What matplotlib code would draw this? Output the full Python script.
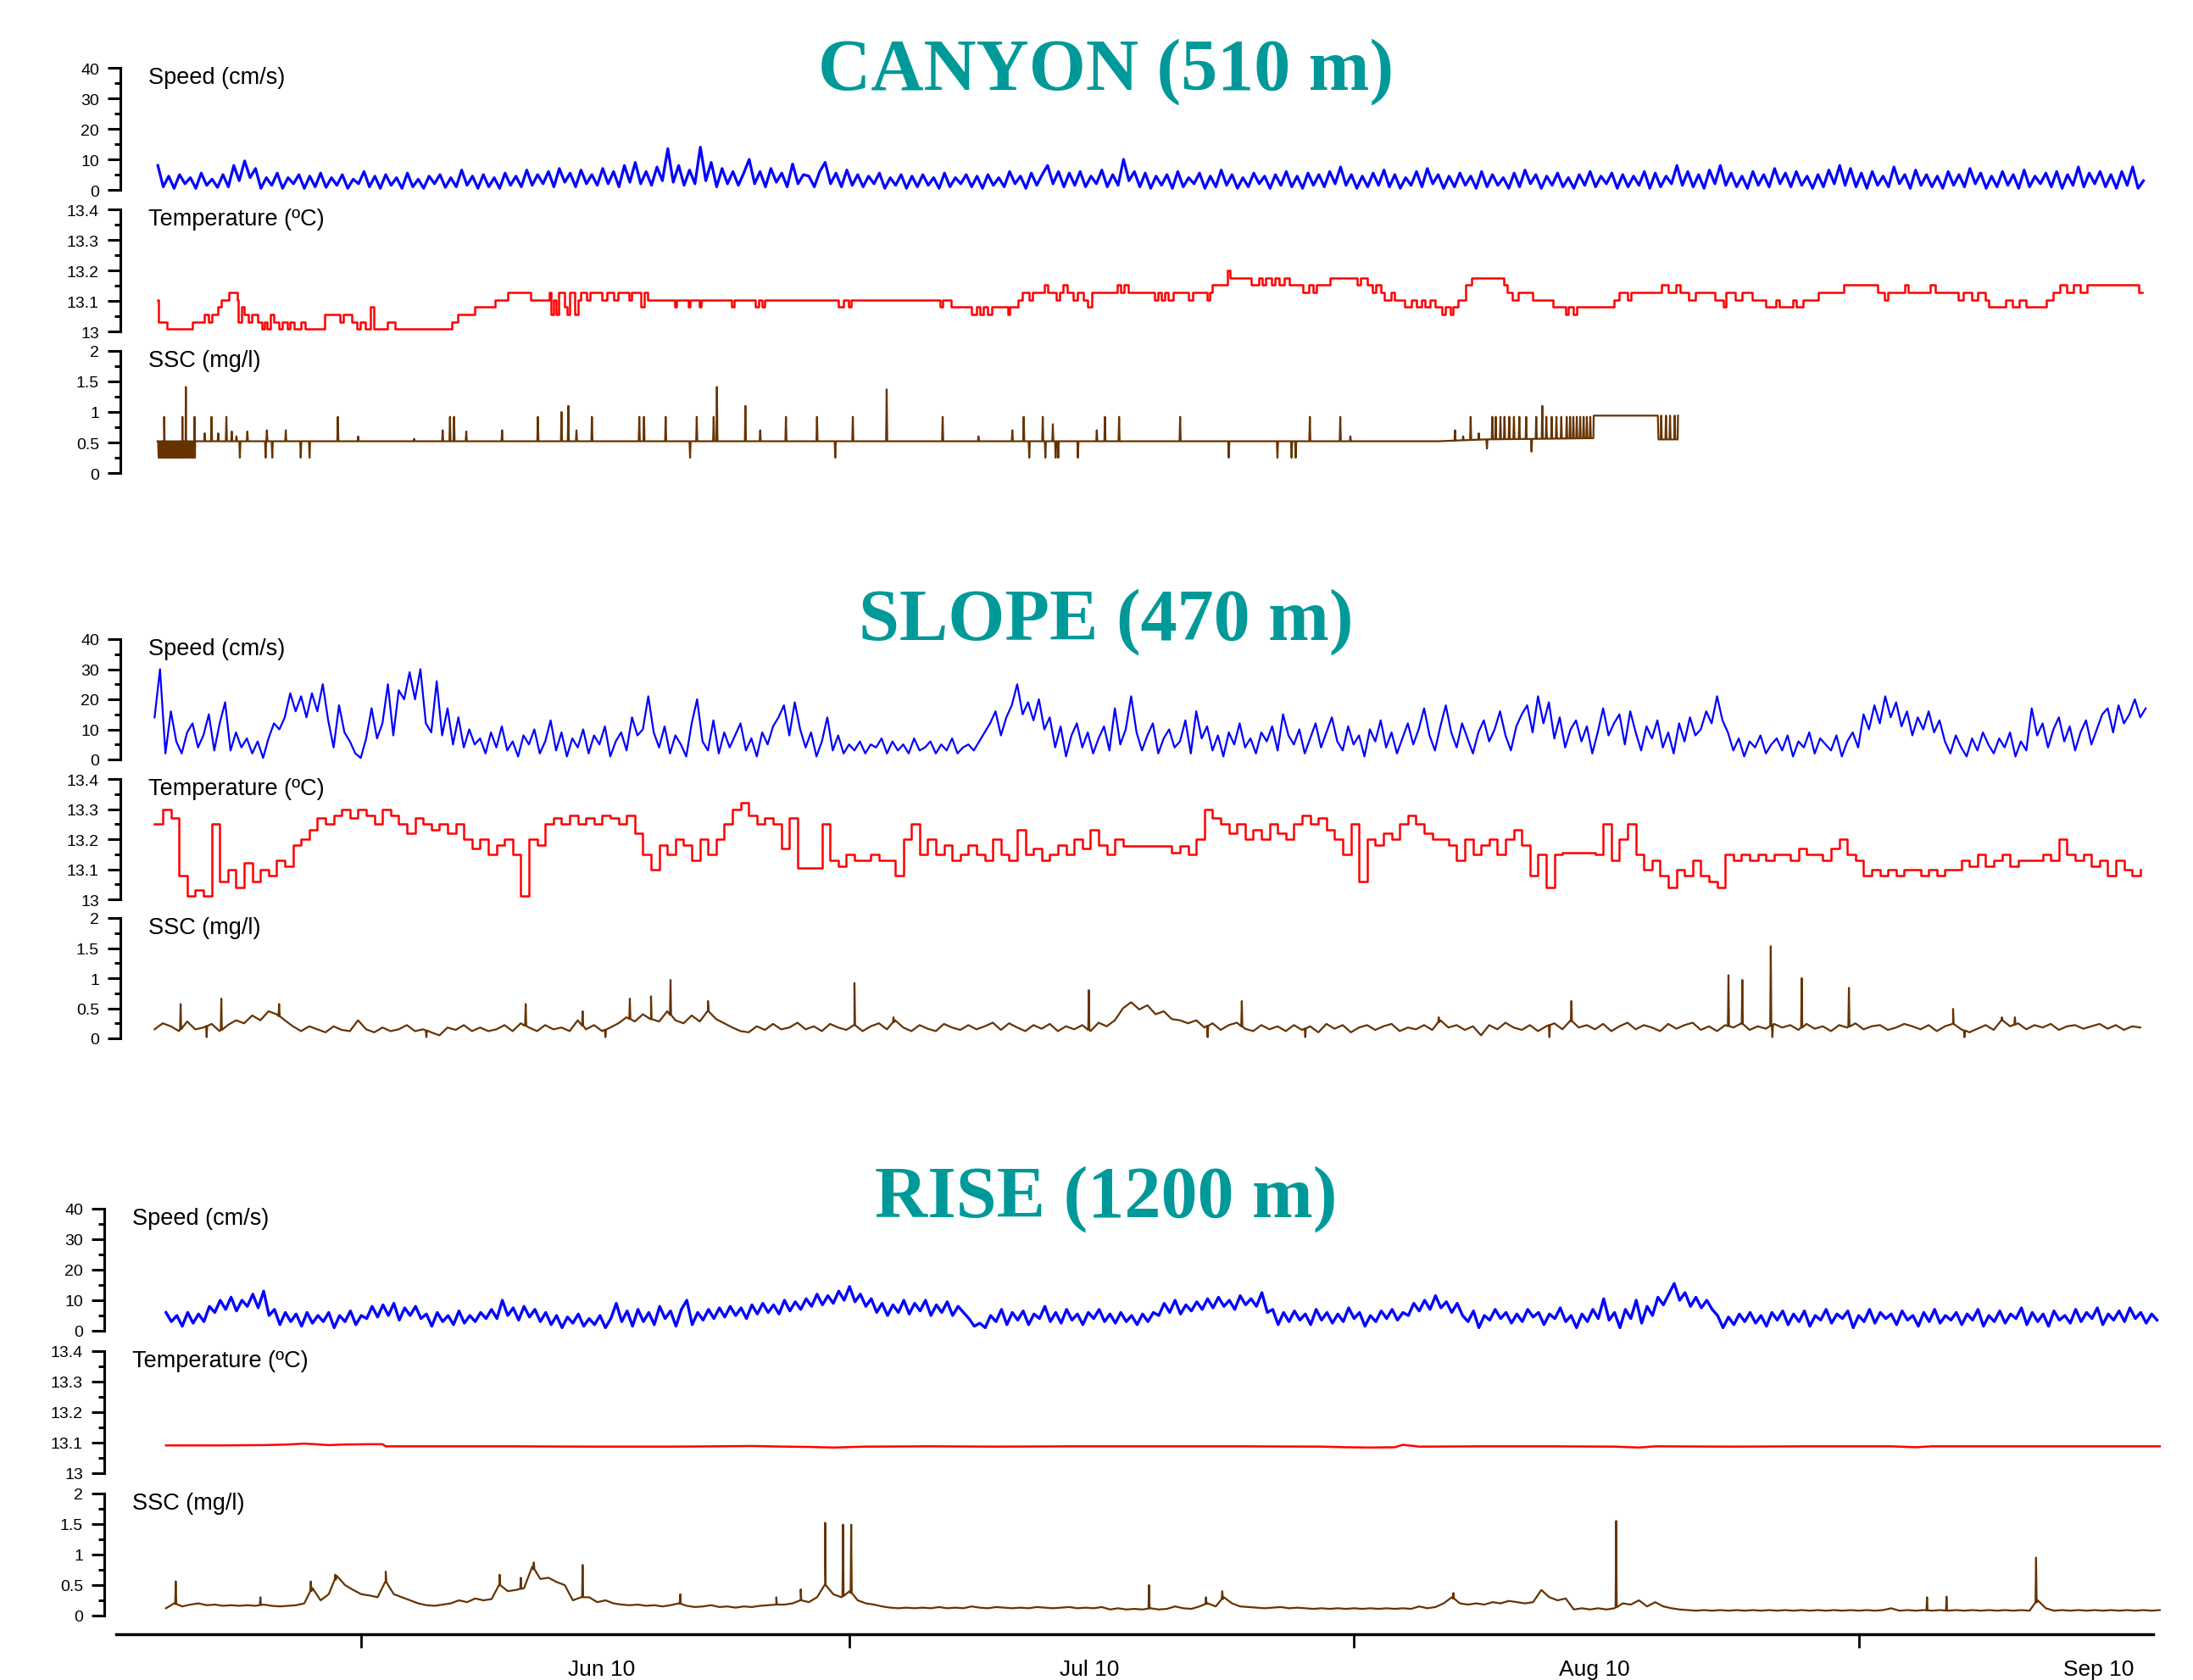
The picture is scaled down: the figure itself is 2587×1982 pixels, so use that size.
import numpy as np
import matplotlib
matplotlib.use("Agg")
import matplotlib.pyplot as plt
from matplotlib.ticker import MultipleLocator

plt.rcParams['font.family'] = ['Liberation Sans', 'DejaVu Sans']

# time axis in days counted from 1 May 2010
month_starts = [31, 61, 92, 123]
month_mids = [45.75, 75.75, 106.75, 137.75]
month_labels = ['Jun 10', 'Jul 10', 'Aug 10', 'Sep 10']

stations = ['CANYON (510 m)', 'SLOPE (470 m)', 'RISE (1200 m)']
var_labels = ['Speed (cm/s)', 'Temperature (ºC)', 'SSC (mg/l)']

speed_ticks = [0, 10, 20, 30, 40]
speed_ticklabels = ['0', '10', '20', '30', '40']
temp_ticks = [13.0, 13.1, 13.2, 13.3, 13.4]
temp_ticklabels = ['13', '13.1', '13.2', '13.3', '13.4']
ssc_ticks = [0, 0.5, 1.0, 1.5, 2.0]
ssc_ticklabels = ['0', '0.5', '1', '1.5', '2']

# ---------------- CANYON ----------------
canyon_speed_start = 18.5   # 3 samples per day
canyon_speed = [
    8.0, 1.0, 4.5, 0.5, 5.0, 2.0, 4.0, 0.5, 5.5, 1.5, 3.5, 0.8, 5.0, 1.0, 8.0, 3.0, 9.5, 4.0, 7.0, 0.5, 4.0, 1.5, 5.5, 0.5, 4.0, 2.0, 5.0, 0.5, 4.5, 1.0,
    5.5, 0.8, 4.0, 1.5, 5.0, 0.5, 3.5, 2.0, 6.0, 1.0, 4.5, 0.5, 5.0, 1.5, 4.0, 0.5, 5.5, 1.0, 3.5, 0.5, 4.5, 2.0, 5.0, 0.8, 4.0, 1.0, 6.5, 1.5, 4.5, 0.5,
    5.0, 1.0, 4.0, 0.5, 5.5, 1.5, 4.5, 1.0, 6.5, 1.5, 5.0, 2.0, 6.0, 1.0, 7.0, 2.5, 5.5, 1.0, 6.5, 2.0, 5.0, 1.5, 7.0, 2.0, 6.0, 1.0, 8.0, 2.5, 9.0, 2.0,
    6.0, 1.5, 7.5, 3.0, 13.5, 2.5, 8.0, 1.5, 6.5, 2.0, 14.0, 3.0, 9.0, 1.0, 7.0, 2.0, 6.0, 1.5, 5.5, 10.0, 2.0, 6.0, 1.0, 7.0, 2.5, 5.5, 1.0, 8.5, 2.0, 5.0,
    4.5, 1.0, 6.0, 9.0, 2.0, 5.5, 1.0, 6.5, 1.5, 5.0, 1.0, 4.5, 2.0, 5.5, 0.5, 4.0, 1.5, 5.0, 0.5, 4.5, 1.0, 5.0, 1.5, 4.0, 0.5, 5.5, 1.0, 4.0, 2.0, 5.0,
    1.0, 4.5, 0.5, 5.0, 1.5, 4.0, 1.0, 6.0, 2.0, 4.5, 0.5, 5.5, 1.5, 5.0, 8.0, 2.0, 6.0, 1.0, 5.5, 1.5, 6.0, 1.0, 4.5, 2.0, 6.5, 1.0, 5.0, 1.5, 10.0, 3.0,
    6.0, 1.0, 5.5, 0.5, 4.5, 1.5, 5.0, 0.5, 6.0, 1.0, 4.0, 2.0, 5.5, 0.5, 4.5, 1.0, 6.5, 1.5, 5.0, 0.5, 4.0, 1.0, 5.5, 2.0, 4.5, 0.5, 5.0, 1.5, 6.0, 1.0,
    4.5, 0.5, 5.5, 1.5, 5.0, 1.0, 6.0, 2.0, 7.5, 1.5, 5.0, 0.5, 4.5, 1.0, 5.5, 1.5, 6.5, 1.0, 5.0, 0.5, 4.0, 1.5, 6.0, 1.0, 7.0, 2.0, 5.0, 0.5, 4.5, 1.0,
    5.5, 1.5, 4.5, 0.5, 6.0, 1.0, 5.0, 1.5, 4.0, 0.5, 5.5, 1.0, 6.5, 2.0, 5.0, 0.5, 4.5, 1.5, 5.5, 1.0, 4.0, 0.5, 5.0, 1.5, 6.0, 1.0, 4.5, 2.0, 5.5, 0.5,
    5.0, 1.0, 4.5, 1.5, 6.0, 0.5, 5.5, 1.0, 4.5, 2.0, 8.0, 1.5, 6.0, 1.0, 5.0, 0.5, 6.5, 2.0, 8.0, 1.5, 5.5, 1.0, 4.5, 0.5, 6.0, 1.5, 5.0, 1.0, 7.0, 2.0,
    5.5, 1.0, 6.0, 1.5, 4.5, 0.5, 5.0, 1.0, 6.5, 2.0, 8.0, 1.5, 7.0, 1.0, 5.5, 0.5, 6.0, 1.5, 4.5, 1.0, 7.5, 2.0, 5.0, 0.5, 6.5, 1.5, 5.0, 1.0, 4.5, 0.5,
    6.0, 1.5, 5.0, 1.0, 7.0, 2.0, 5.5, 0.5, 4.5, 1.0, 6.0, 1.5, 5.0, 0.5, 6.5, 1.0, 4.5, 2.0, 5.5, 1.0, 6.0, 0.5, 5.0, 1.5, 7.5, 1.0, 5.5, 2.0, 6.0, 1.0,
    5.0, 0.5, 6.0, 1.5, 7.5, 0.5, 3.0]

temp_c_day = [
    18.48, 18.56, 19.06, 20.64, 21.38, 21.63, 21.8, 22.21, 22.42, 22.84,
    23.38, 23.46, 23.67, 23.79, 24.08, 24.29, 24.62, 24.91, 25.04, 25.2,
    25.41, 25.62, 25.95, 26.16, 26.45, 26.61, 26.86, 27.28, 27.53, 28.77,
    29.69, 29.89, 30.43, 30.72, 30.93, 31.26, 31.55, 31.76, 32.59, 33.09,
    36.54, 36.95, 37.99, 39.24, 39.98, 41.4, 42.56, 42.64, 42.81, 42.97,
    43.14, 43.47, 43.64, 43.8, 44.13, 44.3, 44.47, 44.84, 45.05, 45.8,
    46.09, 46.5, 46.79, 47.46, 47.62, 48.16, 48.37, 48.58, 50.24, 50.36,
    51.07, 51.19, 51.78, 51.9, 53.77, 53.89, 55.22, 55.43, 55.64, 55.76,
    60.33, 60.62, 60.95, 61.07, 66.56, 66.72, 67.26, 68.5, 68.8, 69.0,
    69.21, 69.46, 69.75, 70.71, 70.83, 71.33, 71.62, 72.04, 72.24, 72.99,
    73.2, 73.7, 73.9, 74.11, 74.36, 74.73, 75.02, 75.36, 75.65, 75.86,
    77.43, 77.68, 77.85, 78.1, 79.73, 79.94, 80.15, 80.35, 80.56, 80.89,
    81.81, 82.1, 82.97, 83.14, 83.26, 84.22, 84.38, 85.67, 86.17, 86.37,
    86.58, 86.91, 87.12, 87.41, 87.7, 88.03, 88.87, 89.2, 89.49, 89.7,
    90.53, 92.19, 92.39, 92.81, 93.1, 93.35, 93.64, 93.85, 94.26, 94.47,
    95.09, 95.51, 95.84, 96.13, 96.34, 96.67, 96.96, 97.38, 97.58, 97.92,
    98.08, 98.41, 98.83, 99.24, 101.2, 101.4, 101.74, 102.07, 102.98, 104.23,
    104.98, 105.18, 105.47, 105.68, 107.96, 108.3, 108.79, 109.0, 110.87, 111.29,
    111.78, 112.03, 112.53, 112.95, 114.19, 114.69, 114.86, 115.44, 115.85, 116.48,
    117.31, 117.93, 118.14, 118.97, 119.17, 119.59, 120.5, 122.08, 124.16, 124.57,
    124.78, 125.82, 126.03, 127.4, 127.69, 129.14, 129.43, 129.97, 130.3, 130.8,
    131.01, 132.05, 132.46, 132.88, 133.29, 134.54, 134.95, 135.37, 135.78, 136.2,
    136.61, 137.03, 140.22, 140.43]
temp_c_val = [
    13.104, 13.031, 13.007, 13.031, 13.056, 13.031, 13.056, 13.080, 13.104, 13.128,
    13.104, 13.031, 13.080, 13.056, 13.031, 13.056, 13.031, 13.007, 13.031, 13.007,
    13.056, 13.031, 13.007, 13.031, 13.007, 13.031, 13.007, 13.031, 13.007, 13.056,
    13.031, 13.056, 13.031, 13.007, 13.031, 13.007, 13.080, 13.007, 13.031, 13.007,
    13.031, 13.056, 13.080, 13.104, 13.128, 13.104, 13.128, 13.056, 13.104, 13.056,
    13.128, 13.080, 13.056, 13.128, 13.056, 13.104, 13.128, 13.104, 13.128, 13.104,
    13.128, 13.104, 13.128, 13.104, 13.128, 13.080, 13.128, 13.104, 13.080, 13.104,
    13.080, 13.104, 13.080, 13.104, 13.080, 13.104, 13.080, 13.104, 13.080, 13.104,
    13.080, 13.104, 13.080, 13.104, 13.080, 13.104, 13.080, 13.056, 13.080, 13.056,
    13.080, 13.056, 13.080, 13.056, 13.080, 13.104, 13.128, 13.104, 13.128, 13.152,
    13.128, 13.104, 13.128, 13.152, 13.128, 13.104, 13.128, 13.104, 13.080, 13.128,
    13.152, 13.128, 13.152, 13.128, 13.104, 13.128, 13.104, 13.128, 13.104, 13.128,
    13.104, 13.128, 13.104, 13.128, 13.152, 13.200, 13.176, 13.152, 13.176, 13.152,
    13.176, 13.152, 13.176, 13.152, 13.176, 13.152, 13.128, 13.152, 13.128, 13.152,
    13.176, 13.152, 13.176, 13.152, 13.128, 13.152, 13.128, 13.104, 13.128, 13.104,
    13.080, 13.104, 13.080, 13.104, 13.080, 13.104, 13.080, 13.056, 13.080, 13.056,
    13.080, 13.104, 13.152, 13.176, 13.152, 13.128, 13.104, 13.128, 13.104, 13.080,
    13.056, 13.080, 13.056, 13.080, 13.104, 13.128, 13.104, 13.128, 13.152, 13.128,
    13.152, 13.128, 13.104, 13.128, 13.104, 13.080, 13.128, 13.104, 13.128, 13.104,
    13.080, 13.104, 13.080, 13.104, 13.080, 13.104, 13.128, 13.152, 13.128, 13.104,
    13.128, 13.152, 13.128, 13.152, 13.128, 13.104, 13.128, 13.104, 13.128, 13.104,
    13.080, 13.104, 13.080, 13.104, 13.080, 13.104, 13.128, 13.152, 13.128, 13.152,
    13.128, 13.152, 13.128, 13.128]

ssc_c_base_day = [18.48, 97.2, 100.0, 106.7, 106.72, 110.66, 110.7, 111.88, 111.9]
ssc_c_base_val = [0.52, 0.52, 0.55, 0.57, 0.94, 0.94, 0.55, 0.55, 0.94]
ssc_c_spike_day = [
    18.55, 18.62, 18.7, 18.78, 18.85, 18.95, 19.02, 19.1, 19.18, 19.25,
    19.33, 19.4, 19.5, 19.58, 19.65, 19.72, 19.8, 19.9, 19.97, 20.05,
    20.12, 20.2, 20.3, 20.38, 20.45, 20.55, 20.62, 20.7, 20.78, 18.89,
    20.01, 20.22, 20.76, 21.38, 21.8, 22.21, 22.71, 23.04, 23.33, 23.54,
    24.0, 25.12, 25.2, 25.53, 26.36, 27.28, 27.82, 29.56, 30.81, 34.25,
    36.0, 36.45, 36.7, 37.45, 39.65, 41.85, 43.3, 43.72, 44.22, 45.17,
    48.08, 48.37, 49.7, 51.2, 51.61, 52.65, 52.85, 54.6, 55.51, 57.09,
    59.0, 60.12, 61.2, 63.28, 66.72, 68.92, 71.0, 71.7, 72.04, 72.87,
    73.03, 73.49, 73.66, 73.82, 75.03, 76.19, 76.69, 77.56, 81.31, 84.3,
    87.29, 88.16, 88.41, 89.28, 91.15, 91.77, 98.2, 98.7, 99.16, 99.66,
    100.16, 100.49, 100.7, 100.99, 101.24, 101.53, 101.82, 102.15, 102.57, 102.9,
    103.19, 103.56, 103.81, 104.14, 104.43, 104.73, 105.06, 105.27, 105.47, 105.68,
    105.89, 106.1, 106.3, 106.51, 110.87, 111.16, 111.41, 111.7]
ssc_c_spike_val = [
    0.25, 0.25, 0.25, 0.25, 0.25, 0.25, 0.25, 0.25, 0.25, 0.25,
    0.25, 0.25, 0.25, 0.25, 0.25, 0.25, 0.25, 0.25, 0.25, 0.25,
    0.25, 0.25, 0.25, 0.25, 0.25, 0.25, 0.25, 0.25, 0.25, 0.92,
    0.92, 1.41, 0.92, 0.65, 0.92, 0.65, 0.92, 0.68, 0.6, 0.25,
    0.68, 0.25, 0.7, 0.25, 0.7, 0.25, 0.25, 0.92, 0.6, 0.56,
    0.7, 0.92, 0.92, 0.68, 0.7, 0.92, 1.0, 1.1, 0.7, 0.92,
    0.92, 0.92, 0.92, 0.25, 0.92, 0.92, 1.41, 1.1, 0.7, 0.92,
    0.92, 0.25, 0.92, 1.37, 0.92, 0.6, 0.7, 0.92, 0.25, 0.92,
    0.25, 0.8, 0.25, 0.25, 0.25, 0.7, 0.92, 0.92, 0.92, 0.25,
    0.25, 0.25, 0.25, 0.92, 0.92, 0.6, 0.7, 0.6, 0.92, 0.65,
    0.4, 0.92, 0.92, 0.92, 0.92, 0.92, 0.92, 0.92, 0.92, 0.35,
    0.92, 1.1, 0.92, 0.92, 0.92, 0.92, 0.92, 0.92, 0.92, 0.92,
    0.92, 0.92, 0.92, 0.92, 0.94, 0.94, 0.94, 0.94]

# ---------------- SLOPE ----------------
slope_speed_start = 18.3   # 3 samples per day
slope_speed = [
    14, 30, 2, 16, 6, 2, 9, 12, 4, 8, 15, 3, 12, 19, 3, 9, 4, 7, 2, 6, 0.5, 7, 12, 10, 14, 22, 16, 21, 14, 22,
    16, 25, 13, 4, 18, 9, 6, 2, 0.5, 7, 17, 7, 12, 25, 8, 23, 20, 29, 20, 30, 12, 9, 26, 8, 17, 5, 14, 4, 10, 5,
    7, 2, 9, 4, 11, 3, 6, 1, 8, 5, 10, 2, 6, 13, 3, 9, 1, 7, 4, 10, 2, 8, 5, 11, 1, 6, 9, 3, 14, 8,
    10, 21, 9, 4, 11, 2, 8, 5, 1, 12, 20, 6, 3, 13, 2, 9, 4, 8, 12, 3, 7, 1, 9, 5, 11, 14, 18, 8, 19, 10,
    4, 9, 1, 6, 14, 3, 8, 2, 5, 3, 6, 2, 5, 4, 7, 2, 6, 3, 5, 2, 7, 3, 4, 6, 2, 5, 3, 7, 2, 4,
    5, 3, 6, 9, 12, 16, 8, 14, 18, 25, 15, 19, 13, 20, 10, 14, 4, 11, 1, 8, 12, 4, 9, 2, 7, 11, 3, 17, 5, 10,
    21, 9, 3, 8, 12, 2, 7, 10, 4, 6, 13, 2, 16, 7, 11, 3, 8, 1, 9, 5, 12, 4, 7, 2, 9, 6, 11, 3, 15, 8,
    5, 10, 2, 7, 12, 4, 9, 14, 6, 3, 11, 5, 8, 1, 10, 6, 13, 4, 9, 2, 7, 12, 5, 10, 17, 8, 3, 11, 18, 9,
    4, 12, 7, 2, 9, 13, 6, 10, 16, 8, 3, 11, 15, 18, 9, 21, 12, 19, 7, 14, 4, 10, 13, 6, 11, 2, 9, 17, 8, 12,
    15, 5, 16, 9, 3, 11, 7, 13, 4, 9, 2, 12, 6, 14, 8, 10, 16, 12, 21, 13, 9, 3, 7, 1, 6, 4, 8, 2, 5, 7,
    3, 8, 1, 6, 4, 9, 2, 7, 5, 3, 8, 1, 6, 9, 4, 15, 10, 18, 12, 21, 14, 19, 11, 16, 8, 14, 10, 16, 9, 13,
    6, 2, 8, 4, 1, 7, 3, 9, 5, 2, 7, 4, 9, 1, 6, 3, 17, 8, 12, 4, 10, 14, 6, 11, 3, 9, 13, 5, 10, 15,
    17, 9, 18, 12, 15, 20, 14, 17]

slope_temp_start = 18.3   # 2 samples per day
slope_temp = [
    13.25, 13.30, 13.27, 13.08, 13.01, 13.03, 13.01, 13.25, 13.06, 13.10, 13.04, 13.12, 13.06, 13.10, 13.08, 13.13, 13.11, 13.18, 13.20, 13.23,
    13.27, 13.25, 13.28, 13.30, 13.27, 13.30, 13.28, 13.25, 13.30, 13.28, 13.25, 13.22, 13.27, 13.25, 13.23, 13.25, 13.22, 13.25, 13.20, 13.17,
    13.20, 13.15, 13.18, 13.20, 13.15, 13.01, 13.20, 13.18, 13.25, 13.27, 13.25, 13.28, 13.25, 13.27, 13.25, 13.28, 13.27, 13.25, 13.28, 13.22,
    13.15, 13.10, 13.18, 13.15, 13.20, 13.18, 13.13, 13.20, 13.15, 13.20, 13.25, 13.30, 13.32, 13.28, 13.25, 13.27, 13.25, 13.17, 13.27, 13.105,
    13.105, 13.105, 13.25, 13.13, 13.11, 13.15, 13.13, 13.13, 13.15, 13.13, 13.13, 13.08, 13.20, 13.25, 13.15, 13.20, 13.15, 13.18, 13.13, 13.15,
    13.18, 13.15, 13.13, 13.20, 13.15, 13.13, 13.23, 13.15, 13.17, 13.13, 13.15, 13.18, 13.15, 13.20, 13.17, 13.23, 13.18, 13.15, 13.20, 13.177,
    13.177, 13.177, 13.177, 13.177, 13.177, 13.154, 13.177, 13.15, 13.20, 13.30, 13.27, 13.25, 13.22, 13.25, 13.20, 13.23, 13.20, 13.25, 13.22, 13.20,
    13.25, 13.28, 13.25, 13.27, 13.23, 13.20, 13.15, 13.25, 13.06, 13.20, 13.18, 13.22, 13.20, 13.25, 13.28, 13.25, 13.22, 13.20, 13.20, 13.18,
    13.13, 13.20, 13.15, 13.18, 13.20, 13.15, 13.20, 13.23, 13.18, 13.08, 13.15, 13.04, 13.15, 13.154, 13.154, 13.154, 13.154, 13.15, 13.25, 13.13,
    13.20, 13.25, 13.15, 13.10, 13.13, 13.08, 13.04, 13.10, 13.08, 13.13, 13.08, 13.06, 13.04, 13.15, 13.13, 13.15, 13.13, 13.15, 13.13, 13.15,
    13.15, 13.13, 13.17, 13.15, 13.15, 13.13, 13.17, 13.20, 13.15, 13.13, 13.08, 13.10, 13.08, 13.10, 13.08, 13.10, 13.10, 13.08, 13.10, 13.08,
    13.10, 13.10, 13.13, 13.11, 13.15, 13.11, 13.13, 13.15, 13.11, 13.13, 13.13, 13.13, 13.15, 13.13, 13.20, 13.15, 13.13, 13.15, 13.11, 13.13,
    13.08, 13.13, 13.10, 13.08, 13.10]

slope_ssc_start = 18.3   # 2 samples per day
slope_ssc = [
    0.15, 0.25, 0.20, 0.12, 0.28, 0.15, 0.18, 0.24, 0.12, 0.22, 0.30, 0.25, 0.38, 0.30, 0.45, 0.40, 0.30, 0.20, 0.12, 0.20,
    0.15, 0.10, 0.20, 0.14, 0.12, 0.30, 0.15, 0.10, 0.18, 0.12, 0.15, 0.22, 0.12, 0.15, 0.10, 0.05, 0.18, 0.14, 0.22, 0.12,
    0.18, 0.12, 0.15, 0.22, 0.12, 0.25, 0.18, 0.12, 0.22, 0.15, 0.18, 0.12, 0.30, 0.15, 0.22, 0.12, 0.18, 0.25, 0.35, 0.28,
    0.40, 0.32, 0.28, 0.45, 0.30, 0.25, 0.38, 0.28, 0.45, 0.32, 0.25, 0.18, 0.12, 0.10, 0.20, 0.14, 0.24, 0.15, 0.18, 0.26,
    0.15, 0.20, 0.12, 0.24, 0.18, 0.14, 0.22, 0.12, 0.20, 0.25, 0.15, 0.30, 0.18, 0.12, 0.22, 0.16, 0.12, 0.24, 0.18, 0.14,
    0.22, 0.15, 0.20, 0.26, 0.14, 0.25, 0.18, 0.12, 0.22, 0.16, 0.24, 0.12, 0.20, 0.15, 0.22, 0.12, 0.26, 0.20, 0.30, 0.50,
    0.60, 0.48, 0.55, 0.40, 0.45, 0.32, 0.30, 0.25, 0.30, 0.18, 0.25, 0.14, 0.22, 0.26, 0.16, 0.12, 0.22, 0.15, 0.20, 0.12,
    0.22, 0.14, 0.20, 0.10, 0.24, 0.16, 0.22, 0.10, 0.18, 0.22, 0.14, 0.20, 0.24, 0.12, 0.18, 0.15, 0.22, 0.14, 0.30, 0.18,
    0.22, 0.14, 0.20, 0.05, 0.22, 0.15, 0.26, 0.18, 0.14, 0.22, 0.12, 0.20, 0.25, 0.15, 0.30, 0.18, 0.22, 0.15, 0.24, 0.12,
    0.20, 0.26, 0.15, 0.22, 0.18, 0.12, 0.24, 0.16, 0.22, 0.26, 0.14, 0.20, 0.12, 0.22, 0.18, 0.25, 0.14, 0.20, 0.16, 0.24,
    0.18, 0.22, 0.14, 0.24, 0.16, 0.20, 0.12, 0.22, 0.18, 0.25, 0.15, 0.20, 0.22, 0.14, 0.18, 0.24, 0.20, 0.15, 0.22, 0.12,
    0.20, 0.24, 0.15, 0.10, 0.16, 0.22, 0.14, 0.30, 0.20, 0.25, 0.15, 0.22, 0.18, 0.24, 0.14, 0.20, 0.22, 0.16, 0.20, 0.24,
    0.16, 0.22, 0.14, 0.20, 0.18]
slope_ssc_spike_day = [19.9, 21.5, 22.4, 25.95, 35.0, 41.1, 44.6, 46.0, 47.5, 48.8,
                       50.0, 52.3, 61.3, 63.7, 75.7, 83.0, 85.1, 89.0, 97.2, 104.0,
                       105.35, 115.0, 115.85, 117.6, 117.7, 119.5, 122.4, 128.8, 129.5, 131.8,
                       132.6]
slope_ssc_spike_val = [0.57, 0.02, 0.66, 0.57, 0.02, 0.57, 0.45, 0.02, 0.66, 0.7,
                       0.97, 0.62, 0.92, 0.35, 0.8, 0.02, 0.62, 0.02, 0.35, 0.02,
                       0.62, 1.05, 0.97, 1.53, 0.02, 1.0, 0.84, 0.49, 0.02, 0.35,
                       0.35]

# ---------------- RISE ----------------
rise_speed_start = 19.0   # 3 samples per day
rise_speed = [
    6, 3, 5, 1.5, 6, 2.5, 5.5, 3, 8, 6, 10, 7, 11, 6.5, 10, 8, 12, 7.5, 13, 5, 7, 2, 6, 3, 5.5, 1.5, 6, 2.5, 5, 3,
    6, 1, 5, 3, 6.5, 2, 5, 4, 8, 4.5, 8.5, 5, 9, 3.5, 7.5, 5, 8, 4, 5.5, 1.5, 6, 3, 5, 2, 6.5, 2.5, 5, 3, 6, 4,
    7, 4, 10, 5, 7.5, 3.5, 8, 4.5, 7, 3, 6, 2, 5, 1, 4.5, 2.5, 5.5, 1.5, 4, 2, 5, 1, 4, 9, 3, 6.5, 1.5, 7, 3, 6,
    2, 8, 4, 6.5, 1.5, 7, 10, 2, 6, 3.5, 7, 4, 7.5, 4.5, 8, 5, 7.5, 4, 8.5, 5.5, 9, 6, 8.5, 5.5, 10, 6.5, 9.5, 7, 10.5, 8,
    12, 8.5, 11.5, 9, 13, 10, 14.5, 9.5, 12, 8, 10.5, 6, 9, 5, 8.5, 6, 10, 5.5, 9, 6.5, 10, 5, 8.5, 6, 9.5, 5, 8, 6, 4, 1.5,
    2.5, 1, 5, 3, 7, 2, 6, 3.5, 6.5, 2, 5.5, 4, 8, 3, 6, 2.5, 7, 3.5, 5.5, 2, 6, 4, 7, 3, 5.5, 2.5, 6, 3, 5, 2,
    5.5, 3, 6, 5, 9, 6, 10, 5.5, 8.5, 6.5, 9.5, 7, 10.5, 7.5, 11, 8, 10, 7, 11.5, 8.5, 10.5, 8, 12.5, 6, 7, 2, 6, 3, 6.5, 3.5,
    5.5, 2, 7, 3.5, 6, 2.5, 5.5, 3, 7.5, 4, 6, 1.5, 5, 3, 6.5, 4, 7, 3.5, 6, 5, 9, 6.5, 10, 7, 11.5, 7.5, 9.5, 6, 9, 5,
    3, 6.5, 1, 5, 3.5, 7, 4, 6, 2.5, 5.5, 3, 7, 4.5, 6, 2, 5.5, 4, 7.5, 3, 5, 1, 5.5, 3, 7, 4, 10.5, 3.5, 6, 1, 7,
    4, 10, 2.5, 8, 5, 11, 8.5, 12, 15.5, 10, 12.5, 8, 11, 7.5, 10, 7, 5, 1, 4.5, 2, 5.5, 3, 6, 2.5, 5, 1.5, 6, 3.5, 6.5, 2,
    5.5, 3, 6.5, 1.5, 5, 3.5, 7, 2.5, 5.5, 4, 6.5, 1, 5, 3, 7, 2.5, 6, 4, 5.5, 2, 6.5, 3.5, 5, 1.5, 6, 3, 7, 2.5, 5, 3.5,
    6, 2, 5.5, 3.5, 7, 1.5, 5, 3, 6.5, 2.5, 5.5, 4, 7.5, 2, 6, 3, 5.5, 1.5, 6.5, 3.5, 5, 2.5, 7, 3, 6, 4, 7.5, 2, 5.5, 3.5,
    6.5, 3, 7.5, 4, 6, 2.5, 5.5, 3.5]

rise_temp_day = [19.0, 22.0, 25.0, 26.5, 27.5, 29.0, 30.0, 31.5, 32.3, 32.5,
                 36.0, 40.0, 45.0, 50.0, 53.0, 55.0, 57.0, 58.5, 60.0, 62.0,
                 66.0, 70.0, 75.0, 80.0, 85.0, 90.0, 91.5, 93.0, 94.5, 95.0,
                 96.0, 100.0, 104.0, 108.0, 109.5, 110.5, 115.0, 120.0, 125.0, 126.5,
                 127.5, 132.0, 137.0, 141.5]
rise_temp_val = [13.091, 13.091, 13.092, 13.094, 13.097, 13.092, 13.094, 13.095, 13.095, 13.088,
                 13.088, 13.088, 13.087, 13.087, 13.088, 13.089, 13.087, 13.086, 13.084, 13.087,
                 13.088, 13.087, 13.088, 13.088, 13.088, 13.087, 13.085, 13.084, 13.085, 13.093,
                 13.087, 13.088, 13.088, 13.087, 13.084, 13.088, 13.087, 13.088, 13.088, 13.085,
                 13.088, 13.088, 13.088, 13.088]

rise_ssc_start = 19.0   # 2 samples per day
rise_ssc = [
    0.12, 0.20, 0.15, 0.18, 0.20, 0.17, 0.18, 0.16, 0.17, 0.16, 0.17, 0.16, 0.18, 0.16, 0.15, 0.16, 0.17, 0.20, 0.45, 0.25,
    0.35, 0.65, 0.50, 0.42, 0.35, 0.33, 0.30, 0.55, 0.35, 0.30, 0.25, 0.20, 0.17, 0.16, 0.18, 0.20, 0.25, 0.22, 0.28, 0.25,
    0.27, 0.50, 0.40, 0.42, 0.45, 0.80, 0.60, 0.62, 0.55, 0.50, 0.25, 0.30, 0.30, 0.22, 0.25, 0.20, 0.18, 0.17, 0.18, 0.16,
    0.17, 0.15, 0.17, 0.20, 0.16, 0.14, 0.15, 0.17, 0.14, 0.15, 0.13, 0.15, 0.14, 0.16, 0.17, 0.18, 0.18, 0.20, 0.25, 0.22,
    0.30, 0.50, 0.35, 0.30, 0.40, 0.25, 0.20, 0.18, 0.15, 0.13, 0.12, 0.13, 0.12, 0.13, 0.12, 0.14, 0.12, 0.13, 0.12, 0.15,
    0.13, 0.12, 0.14, 0.13, 0.12, 0.13, 0.12, 0.14, 0.13, 0.12, 0.13, 0.14, 0.12, 0.13, 0.12, 0.14, 0.10, 0.12, 0.10, 0.11,
    0.10, 0.12, 0.10, 0.11, 0.15, 0.12, 0.11, 0.15, 0.20, 0.15, 0.30, 0.20, 0.15, 0.14, 0.13, 0.12, 0.13, 0.14, 0.12, 0.13,
    0.12, 0.11, 0.12, 0.11, 0.12, 0.11, 0.12, 0.11, 0.12, 0.11, 0.12, 0.11, 0.12, 0.11, 0.15, 0.12, 0.14, 0.20, 0.30, 0.20,
    0.18, 0.20, 0.18, 0.22, 0.20, 0.24, 0.22, 0.20, 0.22, 0.42, 0.30, 0.25, 0.28, 0.10, 0.12, 0.10, 0.12, 0.10, 0.12, 0.20,
    0.18, 0.25, 0.15, 0.22, 0.15, 0.12, 0.10, 0.09, 0.08, 0.09, 0.08, 0.09, 0.08, 0.09, 0.08, 0.09, 0.08, 0.09, 0.08, 0.09,
    0.08, 0.09, 0.08, 0.09, 0.08, 0.09, 0.08, 0.09, 0.08, 0.09, 0.08, 0.09, 0.12, 0.08, 0.09, 0.08, 0.09, 0.08, 0.09, 0.08,
    0.09, 0.08, 0.09, 0.08, 0.09, 0.08, 0.09, 0.08, 0.09, 0.08, 0.25, 0.12, 0.08, 0.09, 0.08, 0.09, 0.08, 0.09, 0.08, 0.09,
    0.08, 0.09, 0.08, 0.09, 0.08, 0.09]
rise_ssc_spike_day = [19.6, 24.8, 27.9, 29.4, 32.5, 39.5, 40.8, 41.6, 44.6, 50.6,
                      56.5, 58.0, 59.5, 60.6, 61.1, 79.4, 82.9, 83.9, 98.1, 108.1,
                      127.2, 128.4, 133.9]
rise_ssc_spike_val = [0.56, 0.3, 0.56, 0.67, 0.72, 0.67, 0.62, 0.87, 0.83, 0.35,
                      0.3, 0.43, 1.52, 1.49, 1.49, 0.5, 0.3, 0.4, 0.37, 1.55,
                      0.3, 0.31, 0.95]


def regular_days(start, n, per_day):
    return start + np.arange(n) / per_day


def with_spikes(days, vals, spike_days, spike_vals, hw=0.035):
    days = np.asarray(days, float)
    vals = np.asarray(vals, float)
    d = list(days)
    v = list(vals)
    for sd, sv in zip(spike_days, spike_vals):
        b = np.interp(sd, days, vals)
        d += [sd - hw, sd, sd + hw]
        v += [b, sv, b]
    order = np.argsort(d, kind='stable')
    return np.array(d)[order], np.array(v)[order]


# ---------------- layout (pixels of the 2587x1983 image) ----------------
W, H = 2587, 1983
PX_DAY = 19.2      # pixels per day
X_DAY0 = -169      # pixel position of day 0 (1 May)
BLUE, RED, BROWN, TEAL = '#0000ff', '#ff0000', '#663300', '#009999'

fig = plt.figure(figsize=(W / 100, H / 100), dpi=100)
fig.patch.set_facecolor('white')


def panel(left, top, bottom, right=2560):
    ax = fig.add_axes([left / W, 1 - bottom / H, (right - left) / W, (bottom - top) / H])
    ax.set_xlim((left - X_DAY0) / PX_DAY, (right - X_DAY0) / PX_DAY)
    ax.patch.set_visible(False)
    for s in ['top', 'right', 'bottom']:
        ax.spines[s].set_visible(False)
    ax.spines['left'].set_linewidth(2.2)
    ax.set_xticks([])
    return ax


def style_y(ax, ticks, labels, lim, minor, label):
    ax.set_ylim(*lim)
    ax.set_yticks(ticks)
    ax.set_yticklabels(labels)
    ax.yaxis.set_minor_locator(MultipleLocator(minor))
    ax.tick_params(axis='y', which='major', length=11, width=2.2, direction='out',
                   labelsize=14, pad=7)
    ax.tick_params(axis='y', which='minor', length=5, width=2.2, direction='out')
    ax.annotate(label, xy=(0, 1), xycoords='axes fraction', xytext=(24, -8),
                textcoords='offset points', ha='left', va='center', fontsize=19.5)


group_rows = [
    [(81, 225), (248, 392), (415, 559)],
    [(755, 897), (920, 1062), (1084, 1226)],
    [(1427, 1571), (1595, 1739), (1763, 1907)],
]
group_left = [142, 142, 123]
title_base = [105, 754, 1435]
speed_lw = [2.3, 1.6, 2.4]

speed_data = [
    (regular_days(canyon_speed_start, len(canyon_speed), 3), canyon_speed),
    (regular_days(slope_speed_start, len(slope_speed), 3), slope_speed),
    (regular_days(rise_speed_start, len(rise_speed), 3), rise_speed),
]
temp_data = [
    (temp_c_day, temp_c_val, 'steps-post'),
    (regular_days(slope_temp_start, len(slope_temp), 2), slope_temp, 'steps-post'),
    (rise_temp_day, rise_temp_val, 'default'),
]
ssc_data = [
    with_spikes(ssc_c_base_day, ssc_c_base_val, ssc_c_spike_day, ssc_c_spike_val),
    with_spikes(regular_days(slope_ssc_start, len(slope_ssc), 2), slope_ssc,
                slope_ssc_spike_day, slope_ssc_spike_val),
    with_spikes(regular_days(rise_ssc_start, len(rise_ssc), 2), rise_ssc,
                rise_ssc_spike_day, rise_ssc_spike_val),
]

for g in range(3):
    rows = group_rows[g]
    left = group_left[g]

    ax = panel(left, *rows[0])
    d, v = speed_data[g]
    ax.plot(d, v, color=BLUE, lw=speed_lw[g], clip_on=False)
    style_y(ax, speed_ticks, speed_ticklabels, (0, 40), 5, var_labels[0])

    ax = panel(left, *rows[1])
    d, v, ds = temp_data[g]
    ax.plot(d, v, color=RED, lw=1.8, drawstyle=ds, clip_on=False)
    style_y(ax, temp_ticks, temp_ticklabels, (13.0, 13.4), 0.05, var_labels[1])

    ax = panel(left, *rows[2])
    d, v = ssc_data[g]
    ax.plot(d, v, color=BROWN, lw=1.6, clip_on=False)
    style_y(ax, ssc_ticks, ssc_ticklabels, (0, 2), 0.25, var_labels[2])

    fig.text(1305 / W, 1 - title_base[g] / H, stations[g], ha='center', va='baseline',
             fontsize=62, fontweight='bold', color=TEAL,
             family=['Liberation Serif', 'DejaVu Serif'])

# shared time axis at the bottom
axb = fig.add_axes([137 / W, 1 - 1929 / H, (2540 - 137) / W, 0.0005])
axb.set_xlim((137 - X_DAY0) / PX_DAY, (2540 - X_DAY0) / PX_DAY)
axb.patch.set_visible(False)
for s in ['top', 'right', 'left']:
    axb.spines[s].set_visible(False)
axb.spines['bottom'].set_linewidth(2.5)
axb.set_yticks([])
axb.set_xticks(month_starts)
axb.set_xticklabels([''] * len(month_starts))
axb.set_xticks(month_mids, minor=True)
axb.set_xticklabels(month_labels, minor=True)
axb.tick_params(axis='x', which='major', length=11.5, width=2, direction='out')
axb.tick_params(axis='x', which='minor', length=0, labelsize=19, pad=21)

fig.savefig('out.png', dpi=100)
